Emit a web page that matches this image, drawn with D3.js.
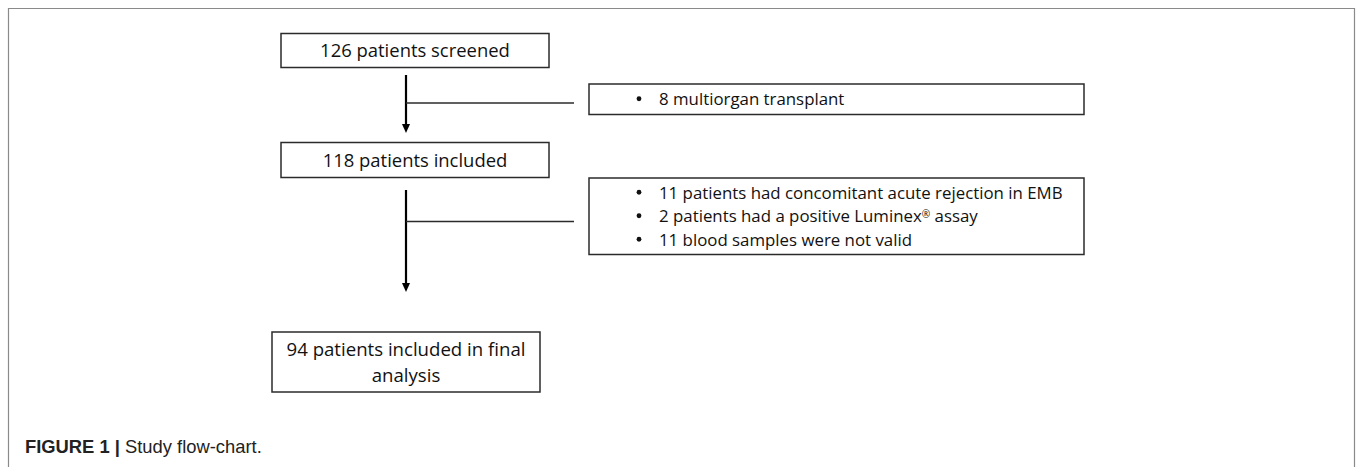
<!DOCTYPE html>
<html><head><meta charset="utf-8">
<script src="https://cdn.jsdelivr.net/npm/d3@7"></script>
<style>html,body{margin:0;padding:0;background:#fff;}svg{display:block;}</style>
</head><body>
<svg id="c" width="1357" height="467"></svg>
<script>
// ---- data ----
const steps = [
  ["126 patients screened"],
  ["118 patients included"],
  ["94 patients included in final", "analysis"]
];
const exclusions = [
  ["8 multiorgan transplant"],
  ["11 patients had concomitant acute rejection in EMB",
   "2 patients had a positive Luminex\u00AE assay",
   "11 blood samples were not valid"]
];
const captionBold = "FIGURE 1 |";
const captionText = " Study flow-chart.";

// ---- layout ----
const W = 1357, H = 467;
const svg = d3.select("#c");
const FONT = "'Open Sans', 'Noto Sans', sans-serif";

function fitSize(text, target, family, weight) {
  const t = svg.append("text").attr("font-family", family).attr("font-size", 20)
    .attr("font-weight", weight || "normal").text(text);
  const w = t.node().getComputedTextLength();
  t.remove();
  return 20 * target / w;
}

// frame
svg.append("path")
  .attr("d", `M8.5,${H} V8.5 H1354.5 V${H}`)
  .attr("fill", "none").attr("stroke", "#8a8a8a").attr("stroke-width", 1.2);

const stepBoxes = [
  {x: 281, y: 33.5, w: 268, h: 34, lh: 26},
  {x: 281, y: 142.5, w: 268, h: 35, lh: 26},
  {x: 272, y: 332, w: 268, h: 60, lh: 26}
];
const exBoxes = [
  {x: 589, y: 84, w: 495, h: 30.5, lh: 23.5},
  {x: 589, y: 178, w: 495, h: 76.5, lh: 23.5}
];
const fsTop = fitSize(steps[0][0], 190, FONT);
const fsBottom = fitSize(steps[2][0], 239, FONT);
const fsEx = fitSize(exclusions[1][0], 404, FONT);
const stepFs = [fsTop, fsTop, fsBottom];

const g = svg.append("g");

g.selectAll("rect.step").data(steps).join("rect")
  .attr("class", "step")
  .attr("x", (d, i) => stepBoxes[i].x).attr("y", (d, i) => stepBoxes[i].y)
  .attr("width", (d, i) => stepBoxes[i].w).attr("height", (d, i) => stepBoxes[i].h)
  .attr("fill", "#fff").attr("stroke", "#2b2b2b").attr("stroke-width", 1.5);

g.selectAll("text.step").data(steps).join("text")
  .attr("class", "step")
  .attr("font-family", FONT).attr("fill", "#111")
  .attr("text-anchor", "middle")
  .attr("font-size", (d, i) => stepFs[i])
  .each(function (d, i) {
    const b = stepBoxes[i];
    const n = d.length;
    const cy = b.y + b.h / 2;
    d3.select(this).selectAll("tspan").data(d).join("tspan")
      .attr("x", b.x + b.w / 2)
      .attr("y", (t, j) => cy + (j - (n - 1) / 2) * b.lh)
      .attr("dy", "0.36em")
      .text(t => t);
  });

g.selectAll("rect.ex").data(exclusions).join("rect")
  .attr("class", "ex")
  .attr("x", (d, i) => exBoxes[i].x).attr("y", (d, i) => exBoxes[i].y)
  .attr("width", (d, i) => exBoxes[i].w).attr("height", (d, i) => exBoxes[i].h)
  .attr("fill", "#fff").attr("stroke", "#2b2b2b").attr("stroke-width", 1.5);

exclusions.forEach((lines, i) => {
  const b = exBoxes[i];
  const n = lines.length;
  const cy = b.y + b.h / 2;
  lines.forEach((t, j) => {
    const y = cy + (j - (n - 1) / 2) * b.lh;
    g.append("circle").attr("cx", 639).attr("cy", y - 0.5).attr("r", 2.4)
      .attr("fill", "#111");
    const tx = g.append("text").attr("x", 659).attr("y", y).attr("dy", "0.36em")
      .attr("font-family", FONT).attr("font-size", fsEx).attr("fill", "#111");
    const parts = t.split("\u00AE");
    tx.append("tspan").text(parts[0]);
    if (parts.length > 1) {
      tx.append("tspan").attr("font-size", fsEx * 0.6).attr("dy", "-0.45em").text("\u00AE");
      tx.append("tspan").attr("dy", `${fsEx * 0.27}px`).text(parts[1]);
    }
  });
});

// arrows
const arrows = [
  {x: 406, y1: 75, y2: 133, by: 103, bx2: 574},
  {x: 406, y1: 190, y2: 292, by: 221.5, bx2: 574}
];
arrows.forEach(a => {
  g.append("line").attr("x1", a.x).attr("x2", a.x).attr("y1", a.y1).attr("y2", a.y2 - 8)
    .attr("stroke", "#000").attr("stroke-width", 2.2);
  g.append("path")
    .attr("d", `M${a.x - 4},${a.y2 - 9} L${a.x + 4},${a.y2 - 9} L${a.x},${a.y2} Z`)
    .attr("fill", "#000");
  g.append("line").attr("x1", a.x).attr("x2", a.bx2).attr("y1", a.by).attr("y2", a.by)
    .attr("stroke", "#2b2b2b").attr("stroke-width", 1.5);
});

// caption
const CAPF = "'Liberation Sans', Arial, sans-serif";
const capFs = (function () {
  const t = svg.append("text").attr("font-family", CAPF).attr("font-size", 20);
  t.append("tspan").attr("font-weight", "bold").text(captionBold);
  t.append("tspan").text(captionText);
  const w = t.node().getComputedTextLength();
  t.remove();
  return 20 * 237 / w;
})();
const cap = svg.append("text").attr("x", 25).attr("y", 453)
  .attr("font-family", CAPF).attr("font-size", capFs).attr("fill", "#222");
cap.append("tspan").attr("font-weight", "bold").text(captionBold);
cap.append("tspan").text(captionText);
</script>
</body></html>
